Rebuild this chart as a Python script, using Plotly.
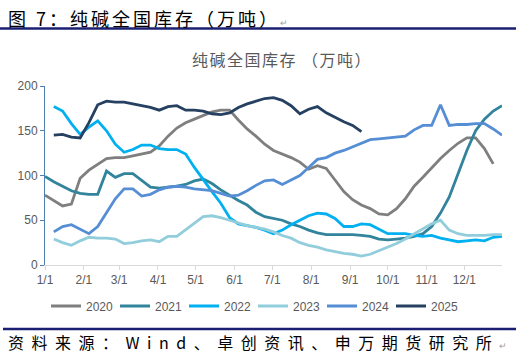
import pandas as pd
import plotly.graph_objects as go

# ---------------- data (weekly, 万吨) ----------------
years = ["2020", "2021", "2022", "2023", "2024", "2025"]
start_dates = ["2001-01-01", "2001-01-01", "2001-01-08", "2001-01-08", "2001-01-08", "2001-01-08"]

v2020 = [78, 72, 66, 68, 97, 106, 113, 119, 120, 120, 122, 124, 126, 133, 144, 153, 159, 163, 167, 171,
         173, 173, 162, 152, 144, 135, 128, 124, 120, 115, 107, 111, 108, 95, 82, 73, 67, 63, 57, 56,
         63, 74, 88, 98, 109, 119, 128, 136, 142, 142, 130, 113]
v2021 = [99, 93, 88, 83, 80, 79, 79, 105, 98, 102, 102, 95, 87, 86, 87, 88, 90, 94, 96, 91,
         84, 78, 72, 67, 59, 54, 52, 50, 46, 43, 39, 36, 34, 34, 34, 34, 33, 32, 29, 28,
         29, 30, 32, 35, 43, 58, 76, 102, 128, 150, 163, 172, 178]
v2022 = [177, 172, 158, 146, 154, 161, 150, 135, 126, 129, 134, 134, 130, 129, 129, 124, 109, 95, 82, 69,
         53, 46, 44, 42, 39, 35, 39, 45, 50, 55, 58, 57, 52, 43, 43, 46, 45, 40, 35, 35,
         35, 33, 32, 33, 30, 28, 26, 27, 28, 27, 31, 32]
v2023 = [29, 25, 22, 27, 31, 30, 30, 29, 24, 25, 27, 28, 26, 32, 32, 39, 47, 54, 55, 53,
         50, 47, 44, 42, 40, 37, 33, 30, 25, 22, 20, 17, 15, 13, 12, 10, 12, 16, 20, 24,
         29, 35, 40, 46, 50, 39, 35, 33, 33, 33, 34, 34]
v2024 = [37, 43, 45, 40, 35, 43, 58, 74, 85, 85, 77, 79, 84, 87, 88, 87, 85, 84, 83, 80,
         77, 78, 83, 89, 94, 95, 90, 95, 100, 109, 118, 120, 125, 128, 132, 136, 140, 141, 142, 143,
         144, 151, 156, 156, 179, 156, 157, 157, 158, 158, 152, 145]
v2025 = [145, 146, 143, 142, 159, 179, 183, 182, 182, 180, 178, 176, 173, 177, 178, 173, 173, 172, 169, 168,
         170, 176, 180, 183, 186, 187, 184, 178, 169, 174, 177, 170, 165, 160, 156, 149]
series_values = [v2020, v2021, v2022, v2023, v2024, v2025]
colors = ["#7F7F7F", "#31849B", "#00B0F0", "#92CDDC", "#558ED5", "#254061"]

tick_dates = ["2001-01-01", "2001-02-01", "2001-03-01", "2001-04-01", "2001-05-01", "2001-06-01",
              "2001-07-01", "2001-08-01", "2001-09-01", "2001-10-01", "2001-11-01", "2001-12-01"]
tick_labels = ["1/1", "2/1", "3/1", "4/1", "5/1", "6/1", "7/1", "8/1", "9/1", "10/1", "11/1", "12/1"]

header_text = "图 7：纯碱全国库存（万吨）"
chart_title = "纯碱全国库存 （万吨）"
source_text = "资料来源：Wind、卓创资讯、申万期货研究所"

# ---------------- layout geometry ----------------
W, H = 516, 359
L, R, T, B = 45, 14, 86, 94
PW, PH = W - L - R, H - T - B


def sx(x):
    return (x - L) / PW


def sy(y):
    return (H - B - y) / PH


CJK = "Noto Sans CJK SC"
LAT = "Liberation Sans, Arial, sans-serif"
GRAY = "#595959"
NAVY = "#1A1F71"

fig = go.Figure()
for name, start, vals, col in zip(years, start_dates, series_values, colors):
    xs = pd.date_range(start, periods=len(vals), freq="7D")
    fig.add_trace(go.Scatter(x=xs, y=vals, name=name, mode="lines",
                             line=dict(color=col, width=2.8)))

fig.update_layout(
    width=W, height=H,
    margin=dict(l=L, r=R, t=T, b=B, pad=0, autoexpand=False),
    paper_bgcolor="white", plot_bgcolor="white",
    font=dict(family=LAT, size=12, color=GRAY),
    showlegend=True,
    legend=dict(orientation="h", xref="container", yref="container",
                x=46 / W, xanchor="left", y=1 - 306 / H, yanchor="middle",
                font=dict(family=LAT, size=12, color=GRAY),
                entrywidth=24, entrywidthmode="pixels", itemwidth=30,
                tracegroupgap=0, bgcolor="rgba(0,0,0,0)"),
    xaxis=dict(type="date", range=["2001-01-01", "2001-12-31"],
               tickmode="array", tickvals=tick_dates, ticktext=tick_labels,
               showgrid=False, zeroline=False,
               showline=True, linecolor="#D9D9D9", linewidth=1,
               ticks="outside", ticklen=4, tickcolor="#D9D9D9",
               tickfont=dict(family=LAT, size=12, color=GRAY)),
    yaxis=dict(range=[0, 200], tickvals=[0, 50, 100, 150, 200],
               showgrid=False, zeroline=False,
               showline=True, linecolor="#4F7FB0", linewidth=1,
               ticks="outside", ticklen=4, tickcolor="#4F7FB0",
               tickfont=dict(family=LAT, size=12, color=GRAY)),
)

annotations = [
    dict(text=f'<span style="letter-spacing:3px">{header_text}</span>'
              '<span style="font-size:9px;fill:#A0A0A0">↵</span>',
         x=sx(6), y=sy(18), xanchor="left", yanchor="middle",
         font=dict(family=CJK, size=18, color="#000000")),
    dict(text=f'<span style="letter-spacing:1.5px">{chart_title}</span>',
         x=sx(282), y=sy(59), xanchor="center", yanchor="middle",
         font=dict(family=CJK, size=16, color=GRAY)),
    dict(text=f'<span style="letter-spacing:7.5px">{source_text}</span>'
              '<span style="font-size:9px;fill:#A0A0A0">↵</span>',
         x=sx(6), y=sy(341.5), xanchor="left", yanchor="middle",
         font=dict(family=CJK, size=16, color="#000000")),
]
for a in annotations:
    a.update(xref="paper", yref="paper", showarrow=False)
fig.update_layout(annotations=annotations)

fig.update_layout(shapes=[
    dict(type="line", xref="paper", yref="paper", x0=sx(0), x1=sx(516), y0=sy(28.5), y1=sy(28.5),
         line=dict(color=NAVY, width=2.5)),
    dict(type="line", xref="paper", yref="paper", x0=sx(3), x1=sx(516), y0=sy(329), y1=sy(329),
         line=dict(color=NAVY, width=2.5)),
])

fig.write_html("out.html", config={"displayModeBar": False},
               post_script="document.body.style.margin='0';document.body.style.overflow='hidden';")
